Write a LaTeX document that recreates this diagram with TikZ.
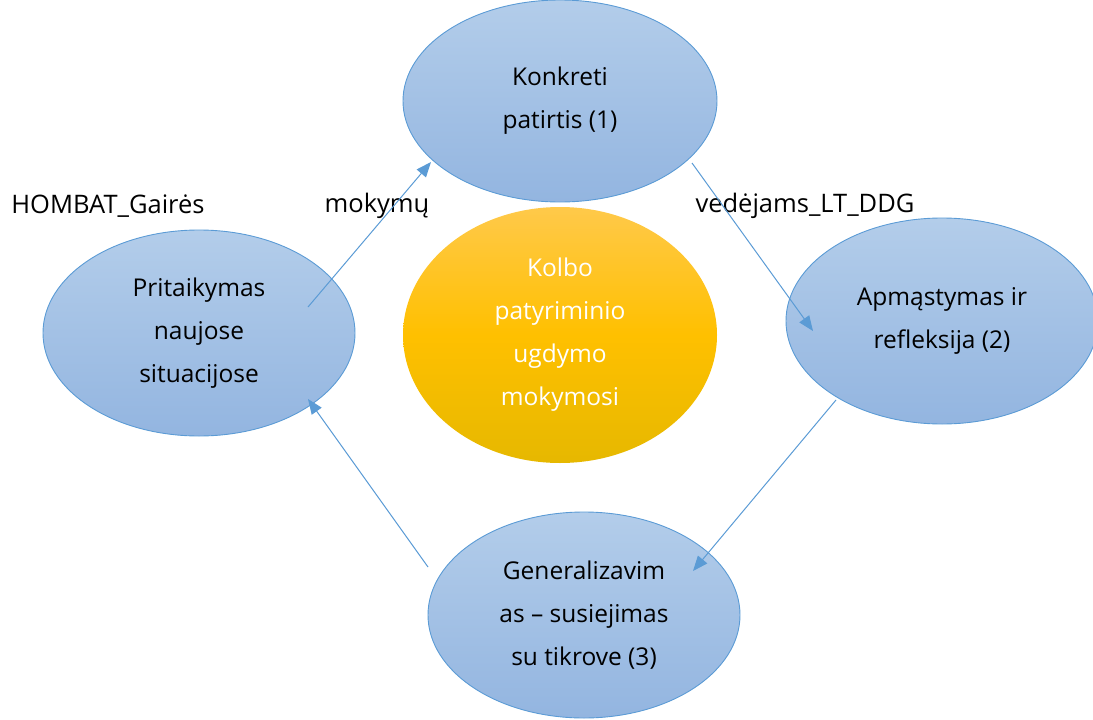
\documentclass[tikz,border=0pt]{standalone}
\usepackage{fontspec}
\setmainfont{Open Sans}
\usetikzlibrary{shapes.geometric,arrows.meta}
\definecolor{edgeblue}{HTML}{5B9BD5}
\definecolor{btop}{HTML}{B3CDEA}
\definecolor{bbot}{HTML}{93B5E0}
\definecolor{otop}{HTML}{FFC94A}
\definecolor{omid}{HTML}{FFC000}
\definecolor{obot}{HTML}{E6B800}
\tikzset{
  bubble/.style={ellipse, draw=edgeblue, line width=0.9pt, top color=btop, bottom color=bbot,
    inner sep=0pt, align=center, text=black, font=\fontsize{24.5}{43}\selectfont},
  core/.style={ellipse, draw=none, top color=otop, bottom color=obot, middle color=omid,
    inner sep=0pt, align=center, text=white, font=\fontsize{24.5}{43}\selectfont},
  flow/.style={draw=edgeblue, line width=1pt, -{Triangle[length=15pt,width=12pt]}},
  caption/.style={inner sep=0pt, text=black, font=\fontsize{25.5}{28}\selectfont}
}
\begin{document}
\begin{tikzpicture}[x=1pt,y=-1pt]
\useasboundingbox (0,0) rectangle (1093,720);
\node[bubble, minimum width=314pt, minimum height=202pt] (top) at (560,101) {Konkreti\\patirtis (1)};
\node[bubble, minimum width=312pt, minimum height=206pt] (right) at (942,321) {Apmąstymas ir\\refleksija (2)};
\node[bubble, minimum width=312pt, minimum height=206pt] (bottom) at (584,615) {Generalizavim\\as – susiejimas\\su tikrove (3)};
\node[bubble, minimum width=312pt, minimum height=206pt] (left) at (199,333) {Pritaikymas\\naujose\\situacijose};
\node[core, minimum width=314pt, minimum height=256pt] (mid) at (560,335) {Kolbo\\patyriminio\\ugdymo\\mokymosi};
\node[caption] (c1) at (108,206) {HOMBAT\_Gairės};
\node[caption] (c2) at (377,206) {mokymų};
\node[caption] (c3) at (805,206) {vedėjams\_LT\_DDG};
\coordinate (l1) at (308,307);
\coordinate (t1) at (431,162);
\coordinate (t2) at (692,163);
\coordinate (r1) at (813,331);
\coordinate (r2) at (836,400);
\coordinate (b1) at (693,571);
\coordinate (b2) at (428,567);
\coordinate (l2) at (308,399);
\draw[flow] (l1) -- (t1);
\draw[flow] (t2) -- (r1);
\draw[flow] (r2) -- (b1);
\draw[flow] (b2) -- (l2);
\end{tikzpicture}
\end{document}
